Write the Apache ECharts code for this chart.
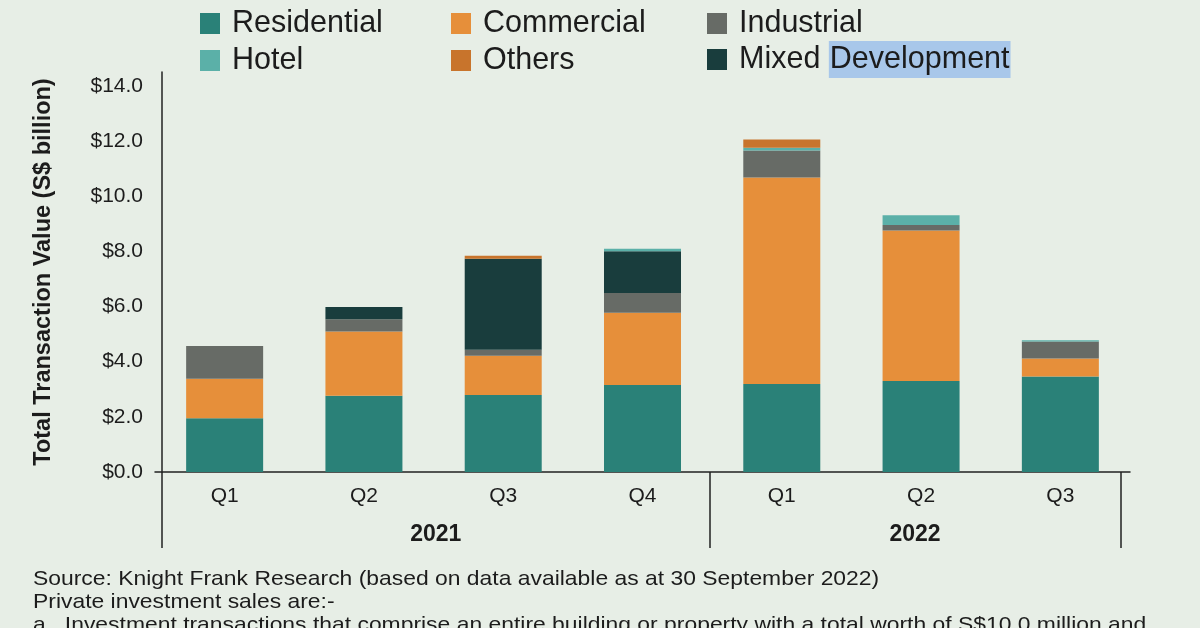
<!DOCTYPE html>
<html>
<head>
<meta charset="utf-8">
<style>
  html, body { margin: 0; padding: 0; background: #e7eee6; }
  #chart { width: 1200px; height: 628px; }
</style>
<script src="https://cdn.jsdelivr.net/npm/echarts@6/dist/echarts.min.js"></script>
</head>
<body>
<div id="chart"></div>
<script>
// ---- data ----
const quarters = ['Q1', 'Q2', 'Q3', 'Q4', 'Q1', 'Q2', 'Q3'];
const years = ['2021', '2022'];
const quartersPerYear = [4, 3];
const yTicks = [0, 2, 4, 6, 8, 10, 12, 14];

const residential = [1.95, 2.76, 2.79, 3.15, 3.19, 3.30, 3.46];
const commercial  = [1.43, 2.33, 1.42, 2.62, 7.49, 5.45, 0.65];
const industrial  = [1.19, 0.45, 0.22, 0.72, 0.97, 0.20, 0.62];
const mixedDev    = [0, 0.44, 3.30, 1.51, 0, 0, 0];
const hotel       = [0, 0, 0, 0.09, 0.10, 0.36, 0.05];
const others      = [0, 0, 0.11, 0, 0.30, 0, 0];

const footerLines = [
  'Source: Knight Frank Research (based on data available as at 30 September 2022)',
  'Private investment sales are:-',
  'a.  Investment transactions that comprise an entire building or property with a total worth of S$10.0 million and'
];

// ---- derived ----
const boundaries = [0];
quartersPerYear.forEach(n => boundaries.push(boundaries[boundaries.length - 1] + n));
const yearCenters = years.map((y, i) => (boundaries[i] + boundaries[i + 1]) / 2);

const colors = {
  'Residential': '#2a8178',
  'Commercial': '#e68f3a',
  'Industrial': '#676b66',
  'Hotel': '#5bb0a8',
  'Others': '#c8742c',
  'Mixed Development': '#193d3d'
};

const FONT = '"Liberation Sans", Arial, sans-serif';
const TXT = '#1c1c1c';

function bar(name, data) {
  return {
    name, type: 'bar', stack: 'total', data,
    xAxisIndex: 0, yAxisIndex: 0,
    barWidth: 77,
    itemStyle: { color: colors[name] },
    emphasis: { disabled: true }
  };
}

function legend(left, names, gap) {
  return {
    orient: 'vertical',
    left,
    top: 3,
    itemWidth: 20,
    itemHeight: 21,
    itemGap: gap,
    icon: 'rect',
    selectedMode: false,
    data: names,
    textStyle: {
      fontFamily: FONT, fontSize: 30.5, color: TXT, lineHeight: 30,
      padding: [0, 0, 0, 7],
      rich: {
        hl: { fontFamily: FONT, fontSize: 30.5, color: TXT, backgroundColor: '#a8c7ea', padding: [3, 1, 3, 1], lineHeight: 30 }
      }
    },
    formatter: name => name === 'Mixed Development' ? 'Mixed {hl|Development}' : name
  };
}

const chart = echarts.init(document.getElementById('chart'), null, { renderer: 'canvas' });

chart.setOption({
  backgroundColor: '#e7eee6',
  animation: false,
  legend: [
    legend(195, ['Residential', 'Hotel'], 6),
    legend(446, ['Commercial', 'Others'], 6),
    legend(702, ['Industrial', 'Mixed Development'], 2)
  ],
  grid: { left: 155, right: 70, top: 72, bottom: 156, containLabel: false },
  xAxis: [
    {
      type: 'category',
      data: quarters,
      axisLine: { show: true, lineStyle: { color: '#222', width: 1.5 } },
      axisTick: { show: false },
      axisLabel: { fontFamily: FONT, fontSize: 21, color: TXT, margin: 14 },
      splitLine: { show: false }
    },
    {
      type: 'value',
      position: 'bottom',
      min: -0.05,
      max: 7.07,
      axisLine: { show: false },
      splitLine: { show: false },
      axisTick: {
        show: true, inside: false, length: 76,
        customValues: boundaries,
        lineStyle: { color: '#222', width: 1.5 }
      },
      axisLabel: {
        show: true,
        customValues: yearCenters,
        formatter: v => years[yearCenters.indexOf(v)] || '',
        fontFamily: FONT, fontSize: 23, fontWeight: 'bold', color: TXT, margin: 51
      }
    }
  ],
  yAxis: {
    type: 'value',
    min: 0,
    max: 14.5,
    interval: 2,
    offset: -7,
    name: 'Total Transaction Value (S$ billion)',
    nameLocation: 'middle',
    nameGap: 106,
    nameTextStyle: { fontFamily: FONT, fontSize: 23.5, fontWeight: 'bold', color: TXT },
    axisLine: { show: true, lineStyle: { color: '#222', width: 1.5 } },
    axisTick: { show: false },
    splitLine: { show: false },
    axisLabel: {
      fontFamily: FONT, fontSize: 21, color: TXT, margin: 19,
      showMaxLabel: false,
      formatter: v => yTicks.indexOf(v) >= 0 ? '$' + v.toFixed(1) : ''
    }
  },
  series: [
    bar('Residential', residential),
    bar('Commercial', commercial),
    bar('Industrial', industrial),
    bar('Mixed Development', mixedDev),
    bar('Hotel', hotel),
    bar('Others', others)
  ],
  graphic: footerLines.map((t, i) => ({
    type: 'text',
    left: 33,
    top: 569 + i * 23,
    scaleX: 1.09,
    style: { text: t, fontFamily: FONT, fontSize: 21, fill: TXT }
  }))
});
</script>
</body>
</html>
